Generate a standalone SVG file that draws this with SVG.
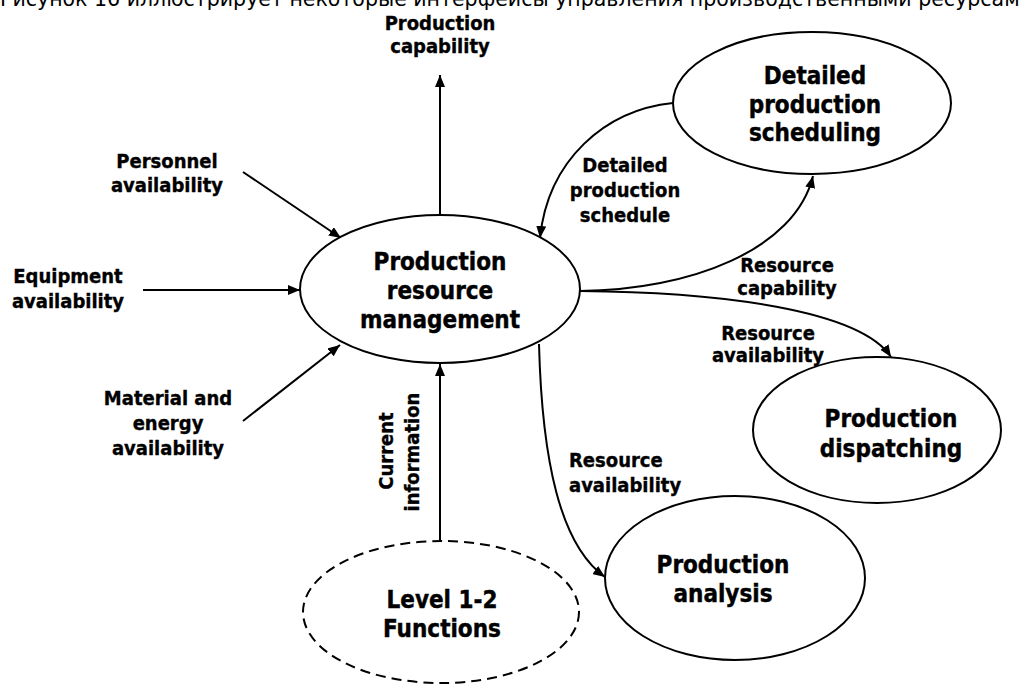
<svg xmlns="http://www.w3.org/2000/svg" width="1021" height="685" viewBox="0 0 1021 685">
<style>
.node{fill:#fff;stroke:#000;stroke-width:2}
.dash{stroke-dasharray:10 6}
.nt{font-family:"DejaVu Sans Condensed","DejaVu Sans",Verdana,sans-serif;font-stretch:condensed;font-weight:bold;font-size:24px;text-anchor:middle;fill:#000;stroke:#000;stroke-width:0.4}
.lb{font-family:"DejaVu Sans Condensed","DejaVu Sans",Verdana,sans-serif;font-stretch:condensed;font-weight:bold;font-size:20px;text-anchor:middle;fill:#000;stroke:#000;stroke-width:0.35}
.cn{fill:none;stroke:#000;stroke-width:2;marker-end:url(#ah)}
.cap{font-family:"DejaVu Sans",Verdana,sans-serif;font-size:22px;fill:#000}
</style>
<defs>
<marker id="ah" viewBox="0 0 12 10" refX="12" refY="5" markerWidth="12" markerHeight="10" markerUnits="userSpaceOnUse" orient="auto">
<path d="M0,0 L12,5 L0,10 z" fill="#000"/>
</marker>
</defs>
<rect width="1021" height="685" fill="#fff"/>
<text class="cap" x="0" y="6" textLength="1033" lengthAdjust="spacingAndGlyphs">Рисунок 16 иллюстрирует некоторые интерфейсы управления производственными ресурсами</text>

<g id="connectors">
<path class="cn" d="M440,215 L440,75"/>
<path class="cn" d="M243,172 L341,238"/>
<path class="cn" d="M143,290 L300,290"/>
<path class="cn" d="M243,421 L340,345"/>
<path class="cn" d="M440,542 L440,364"/>
<path class="cn" d="M673,103 C605,110 548,160 540,238"/>
<path class="cn" d="M580,291 C690,290 795,250 813,176"/>
<path class="cn" d="M580,291 C720,292 860,310 891,357"/>
<path class="cn" d="M539,344 C542,460 560,545 605,577"/>
<text class="lb" x="440" y="30">Production</text>
<text class="lb" x="440" y="53">capability</text>
<text class="lb" x="167" y="168">Personnel</text>
<text class="lb" x="167" y="192">availability</text>
<text class="lb" x="68" y="283">Equipment</text>
<text class="lb" x="68" y="308">availability</text>
<text class="lb" x="168" y="405">Material and</text>
<text class="lb" x="168" y="430">energy</text>
<text class="lb" x="168" y="455">availability</text>
<text class="lb" transform="translate(393,451) rotate(-90)">Current</text>
<text class="lb" transform="translate(419,452) rotate(-90)">information</text>
<text class="lb" x="625" y="172">Detailed</text>
<text class="lb" x="625" y="197">production</text>
<text class="lb" x="625" y="222">schedule</text>
<text class="lb" x="787" y="272">Resource</text>
<text class="lb" x="787" y="295">capability</text>
<text class="lb" x="768" y="340">Resource</text>
<text class="lb" x="768" y="362">availability</text>
<text class="lb" x="569" y="467" style="text-anchor:start">Resource</text>
<text class="lb" x="569" y="492" style="text-anchor:start">availability</text>
</g>

<g id="prm">
<ellipse class="node" cx="440" cy="289" rx="140" ry="74"/>
<text class="nt" x="440" y="270">Production</text>
<text class="nt" x="440" y="299">resource</text>
<text class="nt" x="440" y="328">management</text>
</g>
<g id="dps">
<ellipse class="node" cx="812" cy="103" rx="139" ry="71"/>
<text class="nt" x="815" y="84">Detailed</text>
<text class="nt" x="815" y="113">production</text>
<text class="nt" x="815" y="141">scheduling</text>
</g>
<g id="dispatch">
<ellipse class="node" cx="877" cy="430" rx="124" ry="73"/>
<text class="nt" x="891" y="427">Production</text>
<text class="nt" x="891" y="457">dispatching</text>
</g>
<g id="analysis">
<ellipse class="node" cx="735" cy="578" rx="130" ry="82"/>
<text class="nt" x="723" y="573">Production</text>
<text class="nt" x="723" y="602">analysis</text>
</g>
<g id="level12">
<ellipse class="node dash" cx="441" cy="612" rx="138" ry="71"/>
<text class="nt" x="442" y="608">Level 1-2</text>
<text class="nt" x="442" y="637">Functions</text>
</g>
</svg>
